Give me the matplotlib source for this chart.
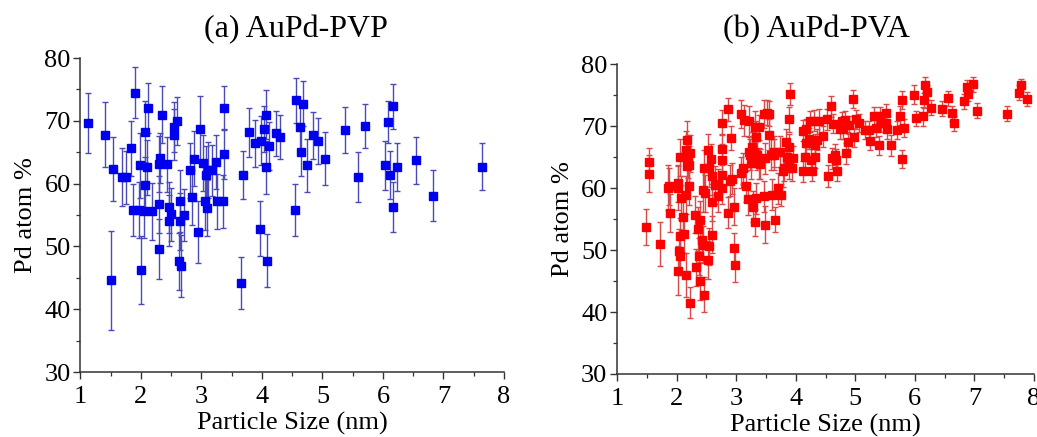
import matplotlib
matplotlib.use("Agg")
import matplotlib.pyplot as plt
from matplotlib.ticker import MultipleLocator

plt.rcParams["font.family"] = ["Liberation Serif", "DejaVu Serif"]

# ── (a) AuPd-PVP ──────────────────────────────────────────────────────────────
pvp_size = [1.13, 1.40, 1.53, 1.51, 1.68, 1.76, 1.83, 1.87, 1.90, 1.97,
            1.98, 2.00, 2.05, 2.06, 2.06, 2.10, 2.12, 2.18, 2.29, 2.30,
            2.30, 2.31, 2.34, 2.43, 2.46, 2.46, 2.49, 2.54, 2.55, 2.59,
            2.63, 2.66, 2.65, 2.65, 2.71, 2.81, 2.84, 2.87, 2.95, 2.98,
            3.03, 3.06, 3.08, 3.09, 3.11, 3.18, 3.24, 3.25, 3.36, 3.38,
            3.38, 3.69, 3.65, 3.79, 3.88, 3.97, 3.99, 4.03, 4.06, 4.07,
            4.08, 4.12, 4.23, 4.30, 4.54,
            4.57, 4.67, 4.63, 4.64, 4.75, 4.84, 4.93, 5.04, 5.37, 5.59,
            5.71, 6.04, 6.09, 6.11, 6.17, 6.17, 6.24, 6.54, 6.82, 7.63]
pvp_pd = [69.7, 67.8, 62.4, 44.6, 61.0, 61.0, 65.6, 55.8, 74.5, 55.8,
          62.9, 46.2, 55.7, 68.3, 59.8, 62.6, 72.0, 55.6, 49.6, 56.7,
          63.1, 64.1, 71.0, 63.1, 56.2, 54.1, 55.1, 67.8, 69.0, 70.0,
          47.6, 46.9, 57.2, 54.0, 55.0, 62.1, 57.8, 64.0, 52.3, 68.7,
          63.3, 57.2, 61.4, 56.1, 62.2, 62.1, 63.5, 57.2, 57.2, 64.7,
          72.0, 61.4, 44.2, 68.2, 66.4, 52.8, 66.8, 68.7, 71.0, 62.6,
          47.7, 66.0, 68.0, 67.5, 55.8,
          73.3, 72.7, 69.0, 65.1, 62.9, 67.7, 66.8, 64.0, 68.5, 61.0,
          69.2, 62.9, 69.8, 61.4, 72.3, 56.3, 62.7, 63.7, 58.1, 62.7]
pvp_err = [4.8, 5.2, 5.1, 7.9, 4.6, 4.2, 4.4, 4.2, 4.0, 4.5,
           5.2, 5.4, 4.3, 4.8, 4.5, 4.4, 4.0, 4.5, 4.8, 4.5,
           4.5, 4.0, 4.6, 4.4, 4.0, 4.1, 4.2, 4.1, 4.0, 3.8,
           4.6, 4.9, 4.9, 4.5, 4.2, 4.4, 4.4, 4.4, 5.0, 5.3,
           4.4, 4.6, 4.6, 4.4, 4.5, 4.1, 4.3, 4.4, 4.2, 4.0,
           3.5, 3.8, 4.1, 3.9, 3.8, 4.4, 3.9, 3.7, 3.9, 4.2,
           4.2, 3.8, 3.6, 3.5, 4.1,
           3.6, 3.6, 3.7, 3.9, 4.2, 3.7, 3.7, 4.2, 3.7, 4.0,
           3.5, 3.9, 3.4, 3.8, 3.6, 4.0, 3.8, 3.7, 4.0, 3.7]

# ── (b) AuPd-PVA ──────────────────────────────────────────────────────────────
pva_size = [1.48, 1.53, 1.53, 1.72, 1.85, 1.88, 1.89, 2.02, 2.03, 2.02,
            2.04, 2.06, 2.06, 2.06, 2.08, 2.10, 2.12, 2.15, 2.16, 2.17,
            2.15, 2.20, 2.17, 2.21, 2.21, 2.22, 2.23, 2.31, 2.33, 2.36,
            2.38, 2.39, 2.40, 2.42, 2.44, 2.44, 2.46, 2.46, 2.48, 2.53,
            2.53, 2.54, 2.55, 2.58, 2.59, 2.59, 2.59, 2.65, 2.70, 2.70,
            2.76, 2.76, 2.77, 2.77, 2.77, 2.87, 2.87, 2.89, 2.91, 2.93,
            2.97, 2.97, 2.98, 3.08, 3.08, 3.11, 3.13, 3.16, 3.20, 3.21,
            3.21, 3.23, 3.25, 3.27, 3.29, 3.30, 3.31, 3.31, 3.33, 3.33,
            3.35, 3.39, 3.39, 3.40, 3.46, 3.47, 3.49, 3.49, 3.51, 3.55,
            3.55, 3.59, 3.60, 3.63, 3.64, 3.66, 3.70, 3.73, 3.75, 3.78,
            3.80, 3.83, 3.86, 3.88, 3.88, 3.89, 3.89, 3.91, 3.94, 3.96,
            4.13, 4.13, 4.16, 4.17, 4.18, 4.22, 4.24, 4.26, 4.28, 4.31,
            4.32, 4.33, 4.36, 4.39, 4.46, 4.52, 4.54, 4.60, 4.61, 4.62,
            4.66, 4.67, 4.69, 4.74, 4.77, 4.80, 4.82, 4.85, 4.88, 4.89,
            4.96, 4.97, 5.01, 5.06, 5.17, 5.23, 5.24, 5.31, 5.34, 5.39,
            5.41, 5.43, 5.52, 5.52, 5.54, 5.60, 5.70, 5.75, 5.78, 5.79,
            5.81, 5.98, 6.02, 6.14, 6.16, 6.17, 6.20, 6.27, 6.45, 6.55,
            6.62, 6.66, 6.83, 6.87, 6.90, 6.97, 7.05, 7.54, 7.75, 7.79,
            7.88]
pva_pd = [53.7, 64.3, 62.3, 51.0, 60.1, 60.3, 56.0, 60.0, 60.8, 46.7,
          49.9, 52.2, 49.0, 65.0, 58.4, 55.4, 52.6, 46.0, 58.9, 67.8,
          66.2, 65.1, 63.5, 63.8, 60.3, 41.5, 65.6, 55.7, 47.2, 53.4,
          49.0, 54.9, 45.0, 51.7, 59.7, 50.9, 42.8, 63.2, 59.2, 66.2,
          48.4, 50.6, 63.2, 64.7, 57.7, 52.5, 61.9, 60.5, 60.6, 58.7,
          60.0, 62.2, 64.6, 66.3, 70.6, 72.7, 56.0, 61.2, 68.1, 61.5,
          57.0, 50.3, 47.6, 72.0, 62.5, 63.2, 71.0, 60.3, 58.2, 70.8,
          65.9, 65.4, 64.0, 66.6, 57.0, 65.9, 54.5, 69.9, 68.3, 58.4,
          65.4, 69.8, 64.0, 63.9, 72.0, 58.7, 64.8, 54.1, 72.2, 72.0,
          68.6, 65.4, 58.9, 65.4, 65.9, 54.9, 60.0, 65.9, 58.9, 62.7,
          63.2, 67.5, 65.0, 66.7, 63.5, 64.6, 71.1, 75.2, 63.2, 64.8,
          62.7, 69.3, 65.0, 67.3, 69.5, 68.0, 70.8, 64.6, 62.8, 70.9,
          67.0, 65.0, 67.8, 70.8, 68.4, 71.1, 62.0, 73.2, 64.8, 70.4,
          65.4, 64.6, 62.7, 69.5, 70.8, 69.5, 71.0, 65.6, 67.5, 70.2,
          74.4, 68.2, 71.1, 70.5, 69.4, 69.4, 67.6, 71.6, 69.7, 66.9,
          71.6, 70.5, 72.1, 70.5, 69.5, 66.9, 69.4, 71.7, 74.2, 64.7,
          69.7, 75.1, 71.3, 71.6, 74.2, 76.7, 75.5, 73.0, 72.8, 74.5,
          72.1, 70.5, 74.0, 76.3, 75.2, 76.8, 72.5, 72.0, 75.4, 76.7,
          74.4]
pva_err = [2.9, 2.2, 3.0, 3.6, 3.7, 3.0, 3.0, 3.5, 3.0, 4.0,
           3.5, 3.0, 3.0, 3.0, 3.5, 3.0, 3.0, 3.5, 3.0, 3.0,
           3.0, 3.5, 3.0, 3.0, 3.0, 2.5, 3.0, 3.0, 3.0, 3.5,
           3.0, 3.0, 3.0, 3.0, 3.5, 3.0, 2.8, 3.0, 3.0, 2.5,
           3.0, 3.0, 3.0, 2.5, 3.0, 3.0, 3.0, 3.0, 2.5, 2.5,
           2.5, 2.5, 2.5, 2.5, 2.0, 1.8, 2.5, 2.5, 2.0, 2.5,
           3.0, 2.5, 2.8, 2.3, 2.5, 2.5, 2.5, 2.5, 2.5, 2.5,
           2.5, 2.5, 2.5, 2.5, 2.5, 2.5, 2.2, 2.5, 2.5, 2.5,
           2.5, 2.0, 2.5, 2.5, 2.3, 2.5, 2.5, 3.0, 2.0, 2.0,
           2.5, 2.5, 2.5, 2.5, 2.5, 2.0, 2.5, 2.5, 1.7, 2.5,
           2.0, 2.0, 2.0, 2.0, 2.0, 2.0, 2.0, 1.7, 2.0, 2.0,
           1.7, 1.7, 1.7, 1.7, 1.7, 1.7, 1.7, 1.7, 1.7, 1.7,
           1.7, 1.7, 1.7, 2.0, 1.7, 1.7, 1.8, 1.7, 1.7, 1.5,
           1.7, 1.7, 1.5, 1.5, 1.5, 1.5, 1.5, 1.7, 1.5, 1.5,
           1.5, 1.5, 1.5, 1.5, 1.5, 1.5, 1.5, 1.5, 1.5, 1.5,
           1.5, 1.5, 1.5, 1.5, 1.5, 1.7, 1.5, 1.5, 1.5, 1.5,
           1.5, 1.5, 1.2, 1.5, 1.2, 1.2, 1.2, 1.2, 1.2, 1.2,
           1.2, 1.2, 1.2, 1.2, 1.2, 1.2, 1.2, 1.2, 1.2, 1.0,
           1.2]

fig = plt.figure(figsize=(10.37, 4.37), dpi=100)
ax1 = fig.add_axes([0.0776, 0.1487, 0.4084, 0.7185])
ax2 = fig.add_axes([0.5950, 0.1442, 0.4021, 0.7087])

panels = [
    (ax1, pvp_size, pvp_pd, pvp_err, "#0000ee", "#4a4ab8", "(a) AuPd-PVP", 0.2855),
    (ax2, pva_size, pva_pd, pva_err, "#ff0000", "#d84a4a", "(b) AuPd-PVA", 0.787),
]

for ax, xs, ys, es, mcol, ecol, title, tx in panels:
    ax.errorbar(xs, ys, yerr=es, fmt="s", ms=5.5, mfc=mcol, mec=mcol,
                ecolor=ecol, elinewidth=1.0, capsize=2.5, capthick=1.0,
                zorder=3)
    ax.set_xlim(1, 8)
    ax.set_ylim(30, 80)
    ax.xaxis.set_major_locator(MultipleLocator(1))
    ax.xaxis.set_minor_locator(MultipleLocator(0.5))
    ax.yaxis.set_major_locator(MultipleLocator(10))
    ax.yaxis.set_minor_locator(MultipleLocator(5))
    for side in ("top", "right"):
        ax.spines[side].set_visible(False)
    for side in ("left", "bottom"):
        ax.spines[side].set_color("#333333")
        ax.spines[side].set_linewidth(1.1)
    ax.tick_params(which="major", direction="out", length=5, width=1.0,
                   labelsize=19, pad=2, color="#333333")
    ax.tick_params(axis="x", which="major", pad=5)
    ax.tick_params(which="minor", direction="out", length=3, width=0.9,
                   color="#333333")
    ax.set_xlabel("Particle Size (nm)", fontsize=19, labelpad=3)
    ax.set_ylabel("Pd atom %", fontsize=19, labelpad=5)
    # titles sit at the same height for both panels
    fig.text(tx, 1 - 30 / 437, title, fontsize=23, ha="center", va="center")

fig.savefig("out.png", dpi=100)
